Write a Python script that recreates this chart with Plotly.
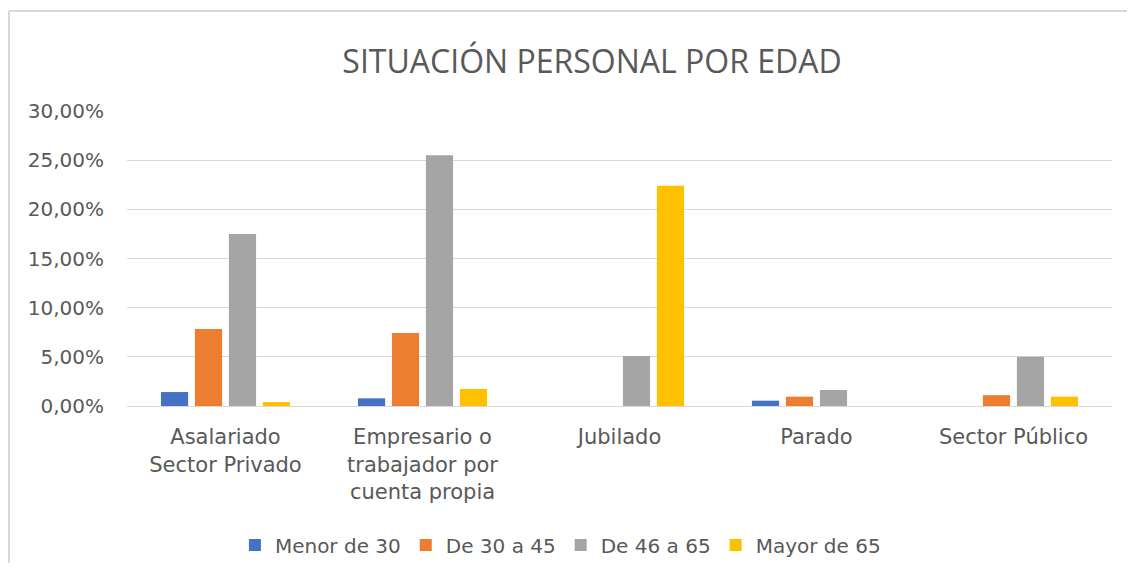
import plotly.graph_objects as go

categories = ["Asalariado<br>Sector Privado", "Empresario o<br>trabajador por<br>cuenta propia", "Jubilado", "Parado", "Sector Público"]
series_names = ["Menor de 30", "De 30 a 45", "De 46 a 65", "Mayor de 65"]
menor_30 = [0.0142, 0.0078, 0.0, 0.0054, 0.0]
de_30_45 = [0.0783, 0.0743, 0.0, 0.0095, 0.0110]
de_46_65 = [0.1750, 0.2550, 0.0508, 0.0163, 0.0500]
mayor_65 = [0.0040, 0.0173, 0.2240, 0.0, 0.0095]
colors = ["#4472C4", "#ED7D31", "#A5A5A5", "#FFC000"]
tick_vals = [0, 0.05, 0.10, 0.15, 0.20, 0.25, 0.30]
tick_text = ["0,00%", "5,00%", "10,00%", "15,00%", "20,00%", "25,00%", "30,00%"]

fig = go.Figure()
for name, vals, c in zip(series_names, [menor_30, de_30_45, de_46_65, mayor_65], colors):
    fig.add_trace(go.Bar(x=categories, y=vals, name=name, marker=dict(color=c, line=dict(width=0))))

# page has an 8px body margin; figure coordinates = page coordinates - 8
W, H = 1127, 555
L, T = 119, 103
R = W - 1104
B = H - 398
pw, ph = W - L - R, H - T - B

FONT = "DejaVu Sans, sans-serif"
fig.update_layout(
    width=W, height=H,
    margin=dict(l=L, r=R, t=T, b=B, autoexpand=False),
    paper_bgcolor="white", plot_bgcolor="white",
    barmode="group", bargap=0.31, bargroupgap=0.2,
    font=dict(family=FONT, color="#595959", size=20),
    title=dict(text="SITUACIÓN PERSONAL POR EDAD", x=584 / W, xref="container", xanchor="center",
               y=1 - 54 / H, yref="container", yanchor="middle",
               font=dict(family="Open Sans, sans-serif", size=32, color="#595959")),
    xaxis=dict(showgrid=False, showline=True, linecolor="#d9d9d9", linewidth=1,
               ticks="", automargin=False, ticklabelstandoff=12,
               tickfont=dict(size=21, color="#595959")),
    yaxis=dict(range=[0, 0.30], tickvals=tick_vals, ticktext=tick_text,
               showgrid=True, gridcolor="#d9d9d9", gridwidth=1, zeroline=False,
               ticks="", ticklen=0, automargin=False, ticklabelstandoff=22,
               tickfont=dict(size=20, color="#595959")),
    legend=dict(orientation="h", x=0.44, xanchor="center", y=-(537 - 398) / ph, yanchor="middle",
                font=dict(size=20, color="#595959", family=FONT), itemwidth=30, tracegroupgap=0,
                itemsizing="constant"),
    showlegend=True,
)

# outer chart border (only left and top edges are visible in the frame)
bx, by = (1 - L) / pw, (H - B - 3) / ph
fig.add_shape(type="line", xref="paper", yref="paper", x0=bx, x1=bx, y0=by, y1=-(B + 20) / ph,
              line=dict(color="#d9d9d9", width=2), layer="below")
fig.add_shape(type="line", xref="paper", yref="paper", x0=bx, x1=(W + 20 - L) / pw, y0=by, y1=by,
              line=dict(color="#d9d9d9", width=2), layer="below")

fig.write_html("out.html")
